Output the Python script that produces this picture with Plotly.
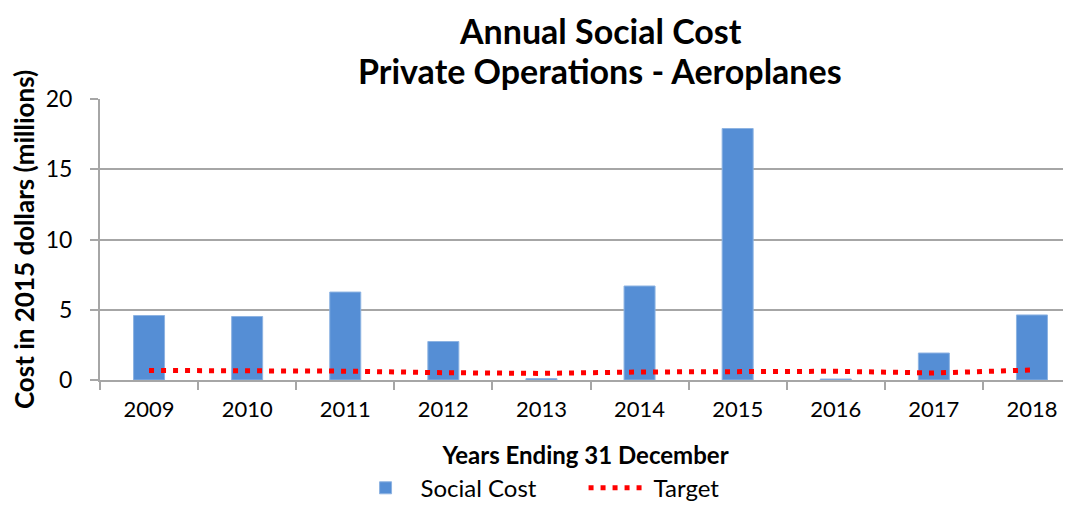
import plotly.graph_objects as go

years = ["2009", "2010", "2011", "2012", "2013", "2014", "2015", "2016", "2017", "2018"]
social_cost = [4.59, 4.52, 6.26, 2.74, 0.10, 6.69, 17.9, 0.07, 1.92, 4.63]
target = [0.68, 0.66, 0.63, 0.52, 0.47, 0.57, 0.60, 0.62, 0.50, 0.71]
title_lines = ["Annual Social Cost", "Private Operations - Aeroplanes"]

FONT = "Lato"
fig = go.Figure()
fig.add_trace(go.Bar(
    x=years, y=social_cost, name="Social Cost",
    marker=dict(color="#558ED5", line=dict(color="#8DB3E2", width=1)),
    width=0.316,
))
fig.add_trace(go.Scatter(
    x=years, y=target, name="Target", mode="lines",
    line=dict(color="#FF0000", width=5, dash="5px,7px"),
))

title_y = [1.245, 1.103]
fig.update_layout(
    width=1063, height=498,
    margin=dict(l=92, r=0, t=91, b=126, autoexpand=False),
    paper_bgcolor="white", plot_bgcolor="white",
    font=dict(family=FONT, size=22, color="#000000"),
    showlegend=True,
    legend=dict(orientation="h", x=0.498, xanchor="center", y=-0.305, yanchor="top",
                font=dict(size=24), itemwidth=60, entrywidth=158, traceorder="normal"),
    annotations=[dict(
        text="<b>" + t + "</b>",
        xref="paper", yref="paper", x=0.515, y=yy, xanchor="center", yanchor="middle",
        showarrow=False, font=dict(family=FONT, size=34, color="#000000"),
    ) for t, yy in zip(title_lines, title_y)],
)
fig.update_xaxes(
    type="category", range=[-0.5, 9.398],
    showline=True, linecolor="#A6A6A6", linewidth=2,
    ticks="outside", tickson="boundaries", ticklen=8, tickcolor="#A6A6A6", tickwidth=2,
    tickfont=dict(size=22), automargin=False, ticklabelstandoff=9,
    title=dict(text="<b>Years Ending 31 December</b>", font=dict(size=24), standoff=26),
    showgrid=False,
)
fig.update_yaxes(
    range=[0, 20], dtick=5, showline=True, linecolor="#A6A6A6", linewidth=2,
    ticks="outside", ticklen=8, tickcolor="#A6A6A6", tickwidth=2,
    showgrid=True, gridcolor="#A6A6A6", gridwidth=2, zeroline=False,
    tickfont=dict(size=23), automargin=False, ticklabelstandoff=13,
    title=dict(text="<b>Cost in 2015 dollars (millions)</b>", font=dict(size=26), standoff=6),
)

fig.write_html("out.html")
